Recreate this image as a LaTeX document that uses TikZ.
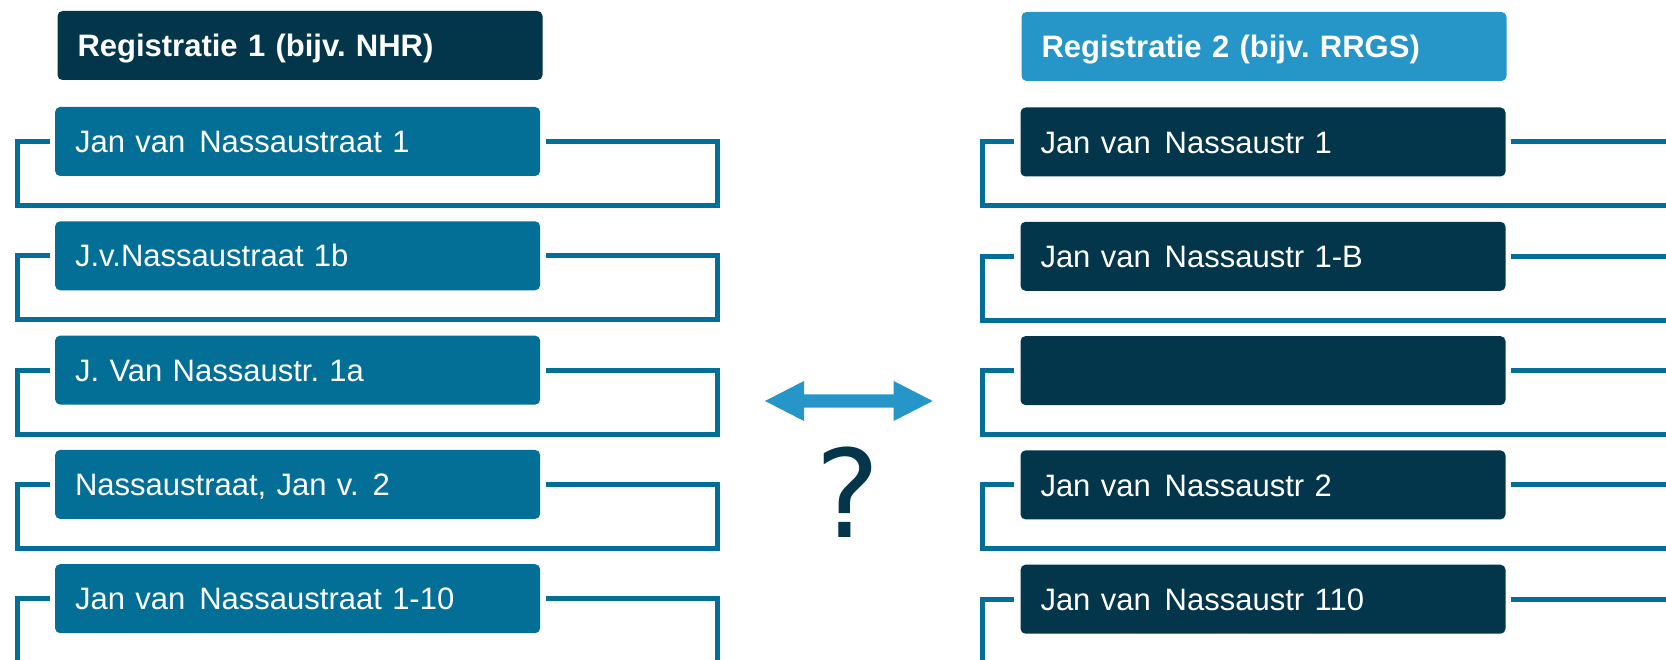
\documentclass[tikz,border=0pt]{standalone}
\usepackage{fontspec}
\setmainfont{Liberation Sans}
\newfontfamily\qfont{DejaVu Sans}
\definecolor{cNavy}{HTML}{03364A}
\definecolor{cTeal}{HTML}{046F96}
\definecolor{cSky}{HTML}{2596C7}
\frenchspacing
\begin{document}
\begin{tikzpicture}[x=1pt,y=-1pt,
  box/.style={rectangle, rounded corners=5pt, text width=445pt, inner xsep=20pt, inner ysep=0pt,
    minimum height=69pt, text height=22.2pt, text depth=0pt, align=left, text=white,
    font=\fontsize{31}{36}\selectfont},
  headbox/.style={box, font=\bfseries\fontsize{31}{36}\selectfont},
  lbox/.style={box, fill=cTeal},
  rbox/.style={box, fill=cNavy},
  bracket/.style={draw=cTeal, line width=5pt}
]
\useasboundingbox (0,0) rectangle (1666,660);
\clip (0,0) rectangle (1666,660);

% headers
\node[headbox, fill=cNavy] (H1) at (300,45.5) {Registratie 1 (bijv. NHR)};
\node[headbox, fill=cSky] (H2) at (1264,46.5) {Registratie 2 (bijv. RRGS)};

% left boxes
\node[lbox] (L1) at (297.6,141.5) {Jan van\hspace{0.45em}Nassaustraat 1};
\node[lbox] (L2) at (297.6,255.8) {J.v.Nassaustraat 1b};
\node[lbox] (L3) at (297.6,370.1) {J. Van Nassaustr. 1a};
\node[lbox] (L4) at (297.6,484.4) {Nassaustraat, Jan v.\hspace{0.45em}2};
\node[lbox] (L5) at (297.6,598.7) {Jan van\hspace{0.45em}Nassaustraat 1-10};

% right boxes
\node[rbox] (R1) at (1263,142) {Jan van\hspace{0.45em}Nassaustr 1};
\node[rbox] (R2) at (1263,256.3) {Jan van\hspace{0.45em}Nassaustr 1-B};
\node[rbox] (R3) at (1263,370.6) {};
\node[rbox] (R4) at (1263,484.9) {Jan van\hspace{0.45em}Nassaustr 2};
\node[rbox] (R5) at (1263,599.2) {Jan van\hspace{0.45em}Nassaustr 110};

% brackets
\foreach \i in {1,...,5}{
  \draw[bracket] ([xshift=6pt]L\i.east) -- ++(171,0) -- ++(0,64) -- ++(-699.5,0) -- ++(0,-64) -- ([xshift=-5pt]L\i.west);
  \draw[bracket] ([xshift=5pt]R\i.east) -- ++(180,0) -- ++(0,64) -- ++(-708.4,0) -- ++(0,-64) -- ([xshift=-6pt]R\i.west);
}

% double arrow
\fill[cSky] (765,401) -- (804,381) -- (804,394.3) -- (893.7,394.3) -- (893.7,381) -- (932.7,401)
  -- (893.7,421) -- (893.7,407.7) -- (804,407.7) -- (804,421) -- cycle;

% question mark
\node[anchor=base, inner sep=0pt, text=cNavy, font=\qfont\fontsize{122}{130}\selectfont] (Q) at (847.5,537) {?};
\end{tikzpicture}
\end{document}
